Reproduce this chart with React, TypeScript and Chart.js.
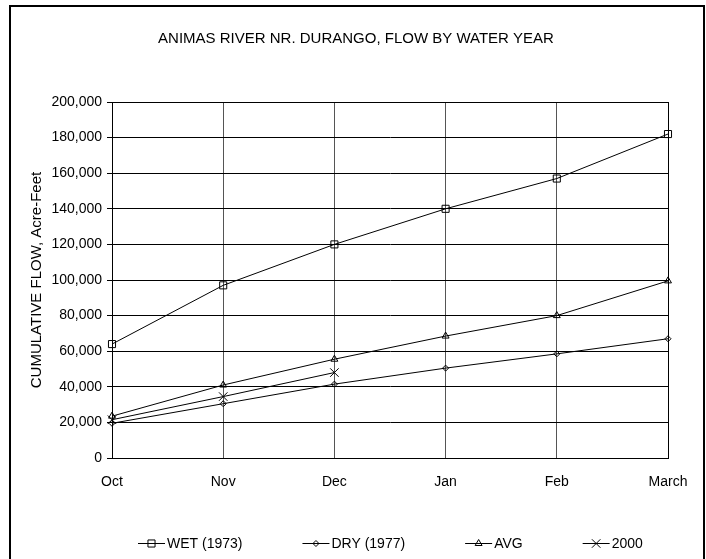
import React, { useEffect, useRef } from "react";
import { Chart, registerables } from "chart.js";
import { drawPoint } from "chart.js/helpers";

Chart.register(...registerables);

const TITLE = "ANIMAS RIVER NR. DURANGO, FLOW BY WATER YEAR";
const Y_TITLE = "CUMULATIVE FLOW, Acre-Feet";
const categories = ["Oct", "Nov", "Dec", "Jan", "Feb", "March"];
const wet1973 = [64000, 97000, 120000, 140000, 157000, 182000];
const dry1977 = [19500, 30500, 41500, 50500, 58500, 67000];
const avgFlow = [23500, 41000, 55500, 68500, 80000, 99500];
const year2000 = [21500, 34500, 48000, null, null, null];
const seriesLabels = ["WET (1973)", "DRY (1977)", "AVG", "2000"];
const Y_MIN = 0;
const Y_MAX = 200000;
const Y_STEP = 20000;

const FONT = "'Liberation Sans', Arial, sans-serif";

const frameAndTextPlugin = {
  id: "frameAndText",
  beforeDraw(chart: any) {
    const ctx = chart.ctx;
    ctx.save();
    ctx.fillStyle = "#ffffff";
    ctx.fillRect(0, 0, chart.width, chart.height);
    ctx.restore();
  },
  afterDraw(chart: any) {
    const ctx = chart.ctx;
    ctx.save();
    // outer frame
    ctx.strokeStyle = "#000";
    ctx.lineWidth = 2;
    ctx.strokeRect(10, 6, 694, 580);
    // title
    ctx.fillStyle = "#000";
    ctx.font = `15px ${FONT}`;
    ctx.textAlign = "center";
    ctx.textBaseline = "middle";
    ctx.fillText(TITLE, 356, 39);
    // legend
    ctx.font = `14px ${FONT}`;
    const y = 543;
    let x = 138;
    const gap = 60;
    ctx.textAlign = "left";
    chart.data.datasets.forEach((ds: any) => {
      ctx.strokeStyle = "#000";
      ctx.lineWidth = 1;
      ctx.beginPath();
      ctx.moveTo(x, y + 0.5);
      ctx.lineTo(x + 27, y + 0.5);
      ctx.stroke();
      ctx.fillStyle = "rgba(0,0,0,0)";
      drawPoint(
        ctx,
        {
          pointStyle: ds.pointStyle,
          radius: ds.pointRadius,
          rotation: 0,
          borderWidth: 1,
        } as any,
        x + 13.5,
        y + 0.5
      );
      ctx.fillStyle = "#000";
      ctx.fillText(ds.label, x + 29, y + 1);
      x += 29 + ctx.measureText(ds.label).width + gap;
    });
    ctx.restore();
  },
};

export default function App() {
  const ref = useRef<HTMLCanvasElement | null>(null);
  useEffect(() => {
    if (!ref.current) return;
    const mk = (label: string, data: any[], style: string, r: number) => ({
      label,
      data,
      borderColor: "#000",
      backgroundColor: "rgba(0,0,0,0)",
      borderWidth: 1,
      pointStyle: style,
      pointRadius: r,
      pointBorderColor: "#000",
      pointBackgroundColor: "rgba(0,0,0,0)",
      pointBorderWidth: 1,
      tension: 0,
      spanGaps: false,
    });
    const chart = new Chart(ref.current, {
      type: "line",
      data: {
        labels: categories,
        datasets: [
          mk(seriesLabels[0], wet1973, "rect", 5),
          mk(seriesLabels[1], dry1977, "rectRot", 3),
          mk(seriesLabels[2], avgFlow, "triangle", 4),
          mk(seriesLabels[3], year2000, "crossRot", 6),
        ],
      },
      options: {
        responsive: false,
        animation: false,
        layout: { padding: { left: 0, right: 38, top: 102, bottom: 71 } },
        plugins: {
          legend: { display: false },
          title: { display: false },
          tooltip: { enabled: false },
        },
        scales: {
          x: {
            type: "category",
            offset: false,
            afterFit: (s: any) => {
              s.height = 30;
            },
            grid: {
              display: true,
              color: "#555",
              lineWidth: 1,
              tickLength: 0,
              drawTicks: false,
            },
            border: { display: true, color: "#000", width: 1 },
            ticks: {
              color: "#000",
              font: { family: FONT, size: 14 },
              padding: 16,
              maxRotation: 0,
              autoSkip: false,
            },
          },
          y: {
            min: Y_MIN,
            max: Y_MAX,
            afterFit: (s: any) => {
              s.width = 112;
            },
            grid: {
              display: true,
              color: "#000",
              lineWidth: 1,
              tickLength: 5,
            },
            border: { display: true, color: "#000", width: 1 },
            ticks: {
              stepSize: Y_STEP,
              color: "#000",
              font: { family: FONT, size: 14 },
              padding: 5,
              callback: (v: any) => Number(v).toLocaleString("en-US"),
            },
            title: {
              display: true,
              text: Y_TITLE,
              color: "#000",
              font: { family: FONT, size: 15 },
              padding: { top: 28, bottom: 0 },
            },
          },
        },
      },
      plugins: [
        frameAndTextPlugin,
        {
          id: "plotBorder",
          afterDatasetsDraw(chart: any) {
            const { left, right, top, bottom } = chart.chartArea;
            const ctx = chart.ctx;
            ctx.save();
            ctx.strokeStyle = "#000";
            ctx.lineWidth = 1;
            ctx.strokeRect(Math.round(left) + 0.5, Math.round(top) + 0.5, Math.round(right - left), Math.round(bottom - top));
            ctx.restore();
          },
        },
      ],
    } as any);
    return () => chart.destroy();
  }, []);
  return (
    <div style={{ position: "absolute", left: 0, top: 0, width: 706, height: 559, background: "#fff" }}>
      <canvas ref={ref} width={706} height={559} style={{ width: 706, height: 559, display: "block" }} />
    </div>
  );
}
